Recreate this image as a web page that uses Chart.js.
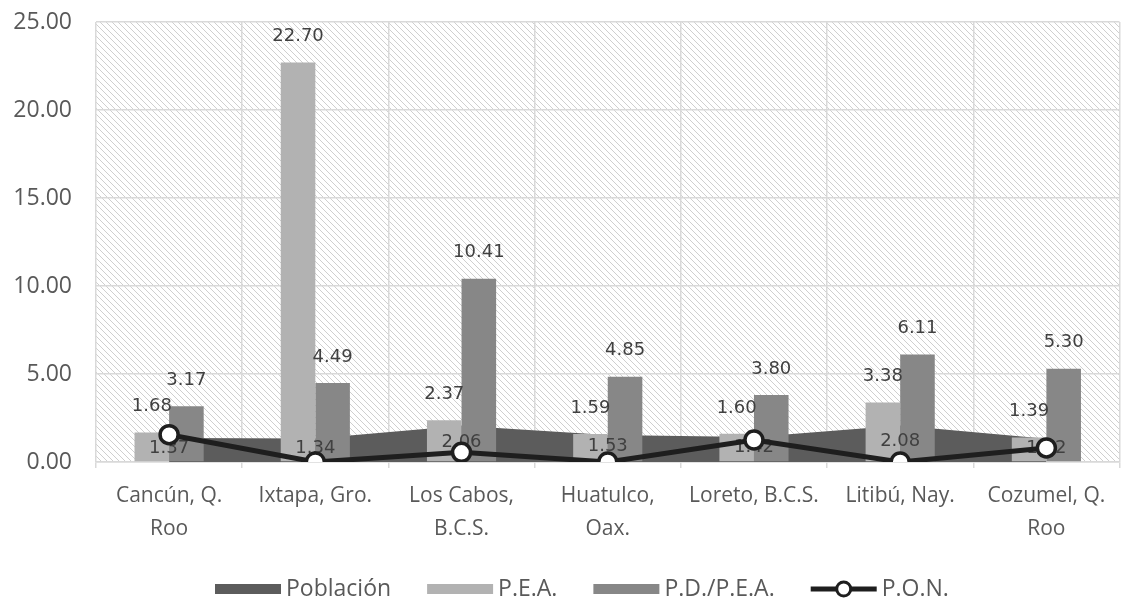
<!DOCTYPE html>
<html>
<head>
<meta charset="utf-8">
<script src="https://cdn.jsdelivr.net/npm/chart.js@4.4.1/dist/chart.umd.min.js"></script>
<style>
  html, body { margin: 0; padding: 0; background: #ffffff; overflow: hidden; }
  #wrap { width: 1132px; height: 600px; }
</style>
</head>
<body>
<div id="wrap"><canvas id="chart" width="1132" height="600"></canvas></div>
<script>
// Destinos turísticos
const categories = [
  ['Cancún, Q.', 'Roo'],
  'Ixtapa, Gro.',
  ['Los Cabos,', 'B.C.S.'],
  ['Huatulco,', 'Oax.'],
  'Loreto, B.C.S.',
  'Litibú, Nay.',
  ['Cozumel, Q.', 'Roo']
];

// Series
const poblacion = [1.37, 1.34, 2.06, 1.53, 1.42, 2.08, 1.32];
const pea       = [1.68, 22.70, 2.37, 1.59, 1.60, 3.38, 1.39];
const pdPea     = [3.17, 4.49, 10.41, 4.85, 3.80, 6.11, 5.30];
const pon       = [1.55, 0.00, 0.55, 0.00, 1.25, 0.00, 0.80];

// Value axis
const yTicks = [0, 5, 10, 15, 20, 25];

const COLORS = {
  poblacion: '#5c5c5c',
  pea: '#b2b2b2',
  pdPea: '#878787',
  pon: '#1e1e1e',
  grid: '#d9d9d9',
  text: '#595959',
  label: '#404040',
  hatch: '#cfcfcf'
};

const AXIS_FONT = '"Open Sans", "Noto Sans", sans-serif';
const LABEL_FONT = '"DejaVu Sans", sans-serif';

// Diagonal hatch tile for the plot background
function makeHatch() {
  const s = 6;
  const t = document.createElement('canvas');
  t.width = s; t.height = s;
  const g = t.getContext('2d');
  g.fillStyle = '#ffffff';
  g.fillRect(0, 0, s, s);
  g.strokeStyle = COLORS.hatch;
  g.lineWidth = 1;
  g.beginPath();
  g.moveTo(-1, -1); g.lineTo(s + 1, s + 1);
  g.moveTo(-1, s - 1); g.lineTo(1, s + 1);
  g.moveTo(s - 1, -1); g.lineTo(s + 1, 1);
  g.stroke();
  return t;
}
const hatchTile = makeHatch();

const hatchBackground = {
  id: 'hatchBackground',
  beforeDraw(chart) {
    const { ctx, chartArea: a } = chart;
    ctx.save();
    ctx.fillStyle = ctx.createPattern(hatchTile, 'repeat');
    ctx.fillRect(a.left, a.top, a.right - a.left, a.bottom - a.top);
    ctx.restore();
  }
};

// Value labels, drawn under the P.O.N. line
const valueLabels = {
  id: 'valueLabels',
  beforeDatasetDraw(chart, args) {
    if (args.index !== 3) return;
    const ctx = chart.ctx;
    const y0 = chart.scales.y.getPixelForValue(0);
    ctx.save();
    ctx.font = '18px ' + LABEL_FONT;
    ctx.fillStyle = COLORS.label;
    ctx.textAlign = 'center';
    ctx.textBaseline = 'middle';
    // area series: centred inside the area
    chart.getDatasetMeta(0).data.forEach((pt, i) => {
      ctx.fillText(poblacion[i].toFixed(2), pt.x, (pt.y + y0) / 2 - 2);
    });
    // bar series: above each bar
    [1, 2].forEach(di => {
      const vals = chart.data.datasets[di].data;
      chart.getDatasetMeta(di).data.forEach((bar, i) => {
        ctx.fillText(vals[i].toFixed(2), bar.x, bar.y - 26);
      });
    });
    ctx.restore();
  }
};

// Legend row along the bottom
const bottomLegend = {
  id: 'bottomLegend',
  afterDraw(chart) {
    const ctx = chart.ctx;
    const items = [
      { text: 'Población', kind: 'box', color: COLORS.poblacion },
      { text: 'P.E.A.', kind: 'box', color: COLORS.pea },
      { text: 'P.D./P.E.A.', kind: 'box', color: COLORS.pdPea },
      { text: 'P.O.N.', kind: 'line', color: COLORS.pon }
    ];
    const cy = 589;
    const sw = 66;
    let x = 215;
    ctx.save();
    ctx.font = '23px ' + AXIS_FONT;
    ctx.textBaseline = 'middle';
    ctx.textAlign = 'left';
    items.forEach(it => {
      if (it.kind === 'box') {
        ctx.fillStyle = it.color;
        ctx.fillRect(x, cy - 5, sw, 10);
      } else {
        ctx.strokeStyle = it.color;
        ctx.lineWidth = 5;
        ctx.beginPath();
        ctx.moveTo(x, cy); ctx.lineTo(x + sw, cy);
        ctx.stroke();
        ctx.beginPath();
        ctx.arc(x + sw / 2, cy, 7, 0, Math.PI * 2);
        ctx.fillStyle = '#ffffff';
        ctx.fill();
        ctx.lineWidth = 3;
        ctx.stroke();
      }
      ctx.fillStyle = COLORS.text;
      ctx.fillText(it.text, x + sw + 5, cy);
      x += sw + 5 + ctx.measureText(it.text).width + 36;
    });
    ctx.restore();
  }
};

new Chart(document.getElementById('chart'), {
  type: 'bar',
  data: {
    labels: categories,
    datasets: [
      {
        type: 'line',
        label: 'Población',
        data: poblacion,
        order: 3,
        fill: 'origin',
        backgroundColor: COLORS.poblacion,
        borderColor: COLORS.poblacion,
        borderWidth: 0,
        pointRadius: 0,
        tension: 0
      },
      {
        label: 'P.E.A.',
        data: pea,
        order: 1,
        backgroundColor: COLORS.pea,
        borderWidth: 0
      },
      {
        label: 'P.D./P.E.A.',
        data: pdPea,
        order: 2,
        backgroundColor: COLORS.pdPea,
        borderWidth: 0
      },
      {
        type: 'line',
        label: 'P.O.N.',
        data: pon,
        order: 0,
        fill: false,
        borderColor: COLORS.pon,
        borderWidth: 5,
        pointRadius: 9,
        pointBorderWidth: 3.5,
        pointBackgroundColor: '#ffffff',
        pointBorderColor: COLORS.pon,
        tension: 0
      }
    ]
  },
  options: {
    responsive: false,
    animation: false,
    events: [],
    categoryPercentage: 0.473,
    barPercentage: 1.0,
    layout: { padding: { top: 22, left: 0, right: 0, bottom: 0 } },
    plugins: {
      legend: { display: false },
      tooltip: { enabled: false }
    },
    scales: {
      x: {
        offset: true,
        grid: {
          offset: true,
          color: COLORS.grid,
          lineWidth: 1.5,
          drawTicks: true,
          tickLength: 6
        },
        border: { display: true, color: COLORS.grid, width: 1.5 },
        ticks: {
          color: COLORS.text,
          font: { family: AXIS_FONT, size: 21, lineHeight: 1.6 },
          padding: 11,
          maxRotation: 0,
          autoSkip: false
        },
        afterFit(scale) { scale.height = 138; }
      },
      y: {
        min: 0,
        max: 25,
        afterBuildTicks(scale) { scale.ticks = yTicks.map(v => ({ value: v })); },
        grid: {
          color: COLORS.grid,
          lineWidth: 1.5,
          drawTicks: true,
          tickLength: 24,
          tickColor: 'rgba(0,0,0,0)'
        },
        border: { display: false },
        ticks: {
          color: COLORS.text,
          font: { family: AXIS_FONT, size: 23 },
          padding: 0,
          callback: v => Number(v).toFixed(2)
        },
        afterFit(scale) { scale.width = 96; }
      }
    }
  },
  plugins: [hatchBackground, valueLabels, bottomLegend]
});
</script>
</body>
</html>
